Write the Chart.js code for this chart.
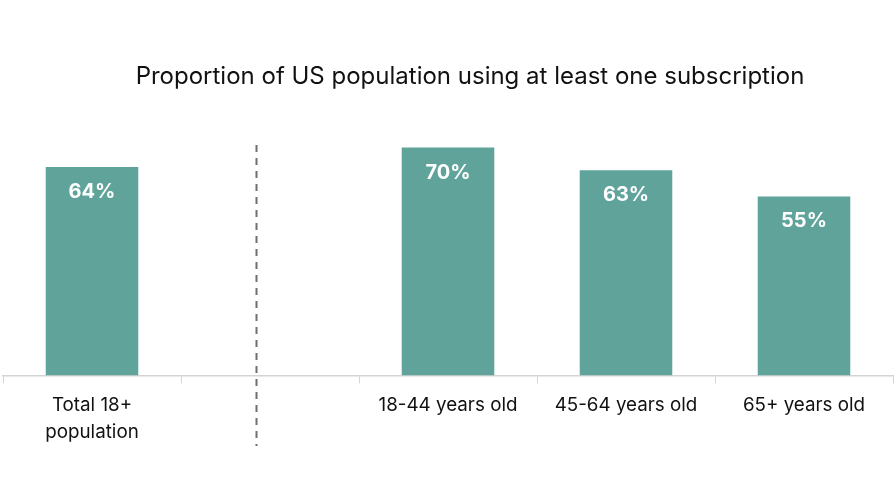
<!DOCTYPE html>
<html>
<head>
<meta charset="utf-8">
<script src="https://cdn.jsdelivr.net/npm/chart.js@4"></script>
<style>
  html, body { margin: 0; padding: 0; background: #fff; }
  #wrap { width: 896px; height: 486px; }
</style>
</head>
<body>
<div id="wrap"><canvas id="subs"></canvas></div>
<script>
// Proportion of US population using at least one subscription
// -----------------------------------

var categories = [['Total 18+', 'population'], '', '18-44 years old', '45-64 years old', '65+ years old'];
var shares = [64, null, 70, 63, 55];
var valueLabels = ['64%', '', '70%', '63%', '55%'];
var chartTitle = 'Proportion of US population using at least one subscription';

var FONT = 'Inter, "Open Sans", sans-serif';

// Title, dashed divider and in-bar labels
var decorations = {
    id: 'decorations',
    afterDatasetsDraw: function(chart) {
        var ctx = chart.ctx;
        var x = chart.scales.x;
        var meta = chart.getDatasetMeta(0);

        ctx.save();
        ctx.fillStyle = '#111';
        ctx.font = '24px ' + FONT;
        ctx.textAlign = 'center';
        ctx.textBaseline = 'middle';
        ctx.fillText(chartTitle, 470, 77);

        // divider between total and age groups
        var dx = Math.round(x.getPixelForValue(0.92)) + 0.5;
        ctx.strokeStyle = '#6f6f6f';
        ctx.lineWidth = 2;
        ctx.setLineDash([7, 6]);
        ctx.beginPath();
        ctx.moveTo(dx, 145);
        ctx.lineTo(dx, 446);
        ctx.stroke();
        ctx.setLineDash([]);

        ctx.fillStyle = '#fff';
        ctx.font = 'bold 20px ' + FONT;
        meta.data.forEach(function(bar, i) {
            if (shares[i] == null) return;
            ctx.fillText(valueLabels[i], bar.x, bar.y + 25);
        });
        ctx.restore();
    }
};

var subsChart = new Chart(document.getElementById('subs'), {
    type: 'bar',
    data: {
        labels: categories,
        datasets: [{
            data: shares,
            backgroundColor: '#5fa39a',
            categoryPercentage: 1,
            barPercentage: 0.52
        }]
    },
    options: {
        responsive: true,
        maintainAspectRatio: false,
        animation: false,
        layout: { padding: { top: 115, left: 3, right: 3, bottom: 32 } },
        plugins: {
            legend: { display: false },
            tooltip: { enabled: false }
        },
        scales: {
            x: {
                grid: {
                    drawOnChartArea: false,
                    drawTicks: true,
                    tickLength: 8,
                    color: '#d4d4d4'
                },
                border: { color: '#d4d4d4', width: 1.5 },
                ticks: {
                    color: '#111',
                    font: { family: FONT, size: 18.8, lineHeight: 1.45 },
                    padding: 8,
                    maxRotation: 0
                }
            },
            y: {
                display: false,
                min: 0,
                max: 80
            }
        }
    },
    plugins: [decorations]
});
</script>
</body>
</html>
